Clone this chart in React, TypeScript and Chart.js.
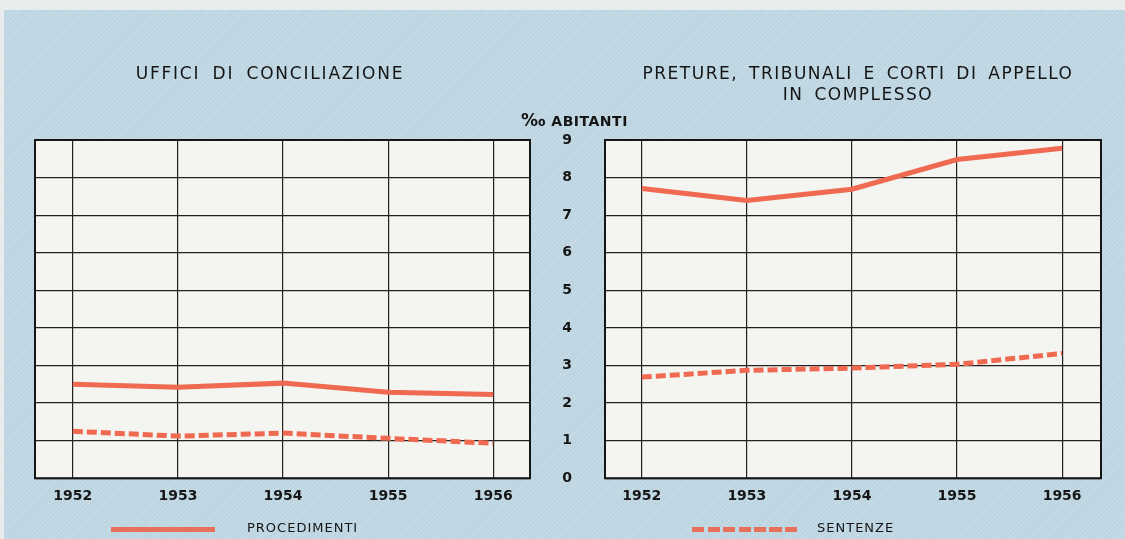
import React, { useEffect, useRef } from "react";
import { Chart, registerables } from "chart.js";
Chart.register(...registerables);

const years = [1952, 1953, 1954, 1955, 1956];
const yTicks = [0, 1, 2, 3, 4, 5, 6, 7, 8, 9];
const concProcedimenti = [2.5, 2.42, 2.53, 2.29, 2.23];
const concSentenze = [1.25, 1.12, 1.2, 1.06, 0.93];
const pretProcedimenti = [7.71, 7.39, 7.69, 8.48, 8.78];
const pretSentenze = [2.69, 2.87, 2.93, 3.03, 3.32];

const LINE = "#ef6a50";
const INK = "#151515";
const FONT = "'DejaVu Sans', sans-serif";

const framePlugin = {
  id: "frame",
  beforeDraw(chart: any) {
    const { ctx, chartArea: a } = chart;
    ctx.save();
    ctx.fillStyle = "#f4f4f1";
    ctx.fillRect(a.left, a.top, a.right - a.left, a.bottom - a.top);
    ctx.restore();
  },
  beforeDatasetsDraw(chart: any) {
    const { ctx, chartArea: a } = chart;
    ctx.save();
    ctx.strokeStyle = INK;
    ctx.lineWidth = 2;
    ctx.strokeRect(a.left, a.top, a.right - a.left, a.bottom - a.top);
    ctx.restore();
  },
};

function makeConfig(pro: number[], sent: number[], showY: boolean, xmin: number, xmax: number, padding: any): any {
  return {
    type: "line",
    data: {
      datasets: [
        {
          label: "PROCEDIMENTI",
          data: years.map((yr, i) => ({ x: yr, y: pro[i] })),
          borderColor: LINE,
          borderWidth: 5,
          pointRadius: 0,
          tension: 0,
          borderCapStyle: "butt",
        },
        {
          label: "SENTENZE",
          data: years.map((yr, i) => ({ x: yr, y: sent[i] })),
          borderColor: LINE,
          borderWidth: 5,
          borderDash: [10, 4],
          pointRadius: 0,
          tension: 0,
          borderCapStyle: "butt",
        },
      ],
    },
    options: {
      animation: false,
      responsive: false,
      maintainAspectRatio: false,
      layout: { padding },
      plugins: { legend: { display: false }, tooltip: { enabled: false }, title: { display: false } },
      scales: {
        x: {
          type: "linear",
          min: xmin,
          max: xmax,
          afterBuildTicks: (s: any) => {
            s.ticks = years.map((v) => ({ value: v }));
          },
          ticks: {
            callback: (v: any) => String(v),
            color: INK,
            font: { family: FONT, size: 14, weight: "bold" },
            padding: 10,
            maxRotation: 0,
            autoSkip: false,
          },
          grid: { color: "#222222", lineWidth: 1.2, drawTicks: false },
          border: { display: false },
        },
        y: {
          type: "linear",
          min: 0,
          max: 9,
          afterBuildTicks: (s: any) => {
            s.ticks = yTicks.map((v) => ({ value: v }));
          },
          afterFit: (s: any) => {
            s.width = showY ? 45 : 0;
          },
          ticks: {
            display: showY,
            color: INK,
            font: { family: FONT, size: 14, weight: "bold" },
            padding: 33,
          },
          grid: { color: "#222222", lineWidth: 1.2, drawTicks: false },
          border: { display: false },
        },
      },
    },
    plugins: [framePlugin],
  };
}

function ChartCanvas({ config, left, width }: { config: any; left: number; width: number }) {
  const ref = useRef<HTMLCanvasElement | null>(null);
  useEffect(() => {
    if (!ref.current) return;
    const ch = new Chart(ref.current, config);
    return () => ch.destroy();
  }, []);
  return (
    <canvas
      ref={ref}
      width={width}
      height={539}
      style={{ position: "absolute", left, top: 0, width, height: 539 }}
    />
  );
}

const textBase: React.CSSProperties = {
  position: "absolute",
  fontFamily: FONT,
  color: INK,
  whiteSpace: "nowrap",
};

export default function App() {
  useEffect(() => {
    document.body.style.margin = "0";
  }, []);
  const leftCfg = makeConfig(concProcedimenti, concSentenze, false, 1951.64, 1956.35, {
    left: 35,
    top: 140,
    right: 30,
    bottom: 24,
  });
  const rightCfg = makeConfig(pretProcedimenti, pretSentenze, true, 1951.65, 1956.37, {
    left: 20,
    top: 140,
    right: 24,
    bottom: 24,
  });
  return (
    <div
      style={{
        position: "relative",
        width: 1125,
        height: 539,
        overflow: "hidden",
        background: "#e9ecec",
      }}
    >
      <div
        style={{
          position: "absolute",
          left: 4,
          top: 10,
          right: 0,
          bottom: 0,
          background:
            "repeating-linear-gradient(135deg, rgba(255,255,255,0.16) 0px, rgba(255,255,255,0.16) 1px, rgba(0,0,0,0) 1px, rgba(0,0,0,0) 3px), #bcd5e1",
        }}
      />
      <ChartCanvas config={leftCfg} left={0} width={560} />
      <ChartCanvas config={rightCfg} left={540} width={585} />

      <div style={{ ...textBase, left: 70, width: 400, top: 63, textAlign: "center", fontSize: 17, letterSpacing: 1.8, wordSpacing: 5 }}>
        UFFICI DI CONCILIAZIONE
      </div>
      <div style={{ ...textBase, left: 608, width: 500, top: 63, textAlign: "center", fontSize: 17, letterSpacing: 1.5, wordSpacing: 4, lineHeight: "21px" }}>
        PRETURE, TRIBUNALI E CORTI DI APPELLO
        <br />
        IN COMPLESSO
      </div>
      <div style={{ ...textBase, left: 521, top: 110, fontSize: 14, fontWeight: "bold", letterSpacing: 0.5 }}>
        <span style={{ fontSize: 17 }}>‰</span> ABITANTI
      </div>

      <div style={{ position: "absolute", left: 111, top: 527, width: 104, height: 5, background: "#e6705a" }} />
      <div style={{ ...textBase, left: 247, top: 520, fontSize: 13, letterSpacing: 1 }}>PROCEDIMENTI</div>

      <div
        style={{
          position: "absolute",
          left: 692,
          top: 527,
          width: 108,
          height: 5,
          background: "repeating-linear-gradient(90deg, #e6705a 0px, #e6705a 12px, rgba(0,0,0,0) 12px, rgba(0,0,0,0) 15.5px)",
        }}
      />
      <div style={{ ...textBase, left: 817, top: 520, fontSize: 13, letterSpacing: 1 }}>SENTENZE</div>
    </div>
  );
}
